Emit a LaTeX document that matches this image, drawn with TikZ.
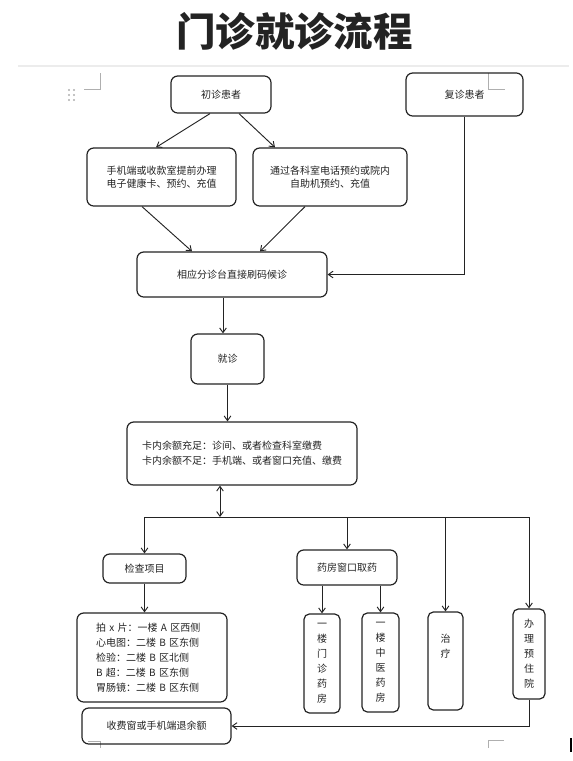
\documentclass[tikz,border=0pt]{standalone}
\usepackage{fontspec}
\usepackage{tikz}
\usetikzlibrary{arrows.meta,calc}
\newfontfamily\cjk{Noto Sans CJK SC}
\definecolor{edge}{RGB}{35,35,35}
\definecolor{page}{RGB}{175,175,175}
\newcommand{\cn}{\cjk\fontsize{7.5pt}{11.25pt}\selectfont}
\tikzset{
  flow/.style={>={Straight Barb[length=3.5pt,width=5pt]},line width=0.7pt,color=edge},
  box/.style={draw=edge,line width=0.9pt,rounded corners=5pt,align=center,
    font=\cn,inner sep=2pt},
  vbox/.style={box,rounded corners=4pt,inner sep=1pt},
  pagemark/.style={draw=page,line width=0.5pt},
}
\begin{document}
\begin{tikzpicture}[flow,x=0.75pt,y=-0.75pt]
\useasboundingbox (0,0) rectangle (572,761);
% page marks
\draw[gray!15,line width=1.5pt] (18,66) -- (569,66);
\draw[pagemark] (84,89) -- (100,89) -- (100,73);
\draw[pagemark] (488,73) -- (488,89) -- (505,89);
\draw[pagemark] (88,741) -- (100,741) -- (100,748);
\draw[pagemark] (488,748) -- (488,740) -- (504,740);
\foreach \i in {90,95,100} \fill[page] (69,\i) circle (0.9pt) (74,\i) circle (0.9pt);
\fill[black] (570,738) rectangle (572,752);
% title
\node (title) at (294.5,31) {\cjk\bfseries\fontsize{29.6pt}{30pt}\selectfont 门诊就诊流程};
% boxes
\node[box,minimum width=75pt,minimum height=27.75pt] (cz) at (221,94.5) {初诊患者};
\node[box,minimum width=87.75pt,minimum height=32.25pt] (fz) at (464.5,94.5) {复诊患者};
\node[box,minimum width=111.75pt,minimum height=43.5pt,align=left] (sj) at (161.5,177)
  {手机端或收款室提前办理\\[-1.5pt]电子健康卡、预约、充值};
\node[box,minimum width=115.5pt,minimum height=43.5pt] (ks) at (330,177)
  {通过各科室电话预约或院内\\[-1.5pt]自助机预约、充值};
\node[box,minimum width=142.5pt,minimum height=33.75pt] (hz) at (232,274.5) {相应分诊台直接刷码候诊};
\node[box,minimum width=54.75pt,minimum height=37.5pt] (jz) at (227.5,359) {就诊};
\node[box,minimum width=172.5pt,minimum height=47.25pt,align=left] (ye) at (242,453.5)
  {卡内余额充足：诊间、或者检查科室缴费\\卡内余额不足：手机端、或者窗口充值、缴费};
\node[box,minimum width=62.25pt,minimum height=21.75pt] (jc) at (144.5,568.5) {检查项目};
\node[box,minimum width=112.5pt,minimum height=66.75pt,text width=84pt,inner xsep=14.25pt,
  align=left] (xm) at (152,657.5)
  {拍 x 片：一楼 A 区西侧\\心电图：二楼 B 区东侧\\检验：二楼 B 区北侧\\B 超：二楼 B 区东侧\\胃肠镜：二楼 B 区东侧};
\node[box,minimum width=75pt,minimum height=26.25pt] (yf) at (347,567.5) {药房窗口取药};
\node[vbox,minimum width=27pt,minimum height=74.25pt] (mz) at (322,663.5) {一\\楼\\门\\诊\\药\\房};
\node[vbox,minimum width=27.75pt,minimum height=74.25pt] (zyf) at (380.5,662.5) {一\\楼\\中\\医\\药\\房};
\node[vbox,minimum width=26.25pt,minimum height=73.5pt] (zl) at (445.5,661) {治\\疗\\~\\~};
\node[vbox,minimum width=24pt,minimum height=67.5pt] (zy) at (529,654) {办\\理\\预\\住\\院};
\node[box,minimum width=111.75pt,minimum height=27pt] (sf) at (156.5,726) {收费窗或手机端退余额};
% connectors
\draw[->] ($(cz.south)+(-11,0)$) -- ($(sj.north)+(-5.5,0)$);
\draw[->] ($(cz.south)+(18,0)$) -- ($(ks.north)+(-55,0)$);
\draw[->] ($(sj.south)+(-19.5,0)$) -- ($(hz.north)+(-40,0)$);
\draw[->] ($(ks.south)+(-25,0)$) -- ($(hz.north)+(28,0)$);
\draw[->] (fz.south) |- (hz.east);
\draw[->] ($(hz.south)+(-9,0)$) coordinate (h1) -- (h1 |- jz.north);
\draw[->] (jz.south) -- (jz.south |- ye.north);
\coordinate (bus) at (220,517);
\draw[<->] (bus |- ye.south) -- (bus);
\draw (bus -| jc.north) -- (bus -| zy.north);
\foreach \n in {jc,yf,zl,zy} \draw[->] (bus -| \n.north) -- (\n.north);
\draw[->] (jc.south) -- (jc.south |- xm.north);
\draw[->] (yf.south -| mz.north) -- (mz.north);
\draw[->] (yf.south -| zyf.north) -- (zyf.north);
\draw[->] (zy.south) |- (sf.east);
\end{tikzpicture}
\end{document}
